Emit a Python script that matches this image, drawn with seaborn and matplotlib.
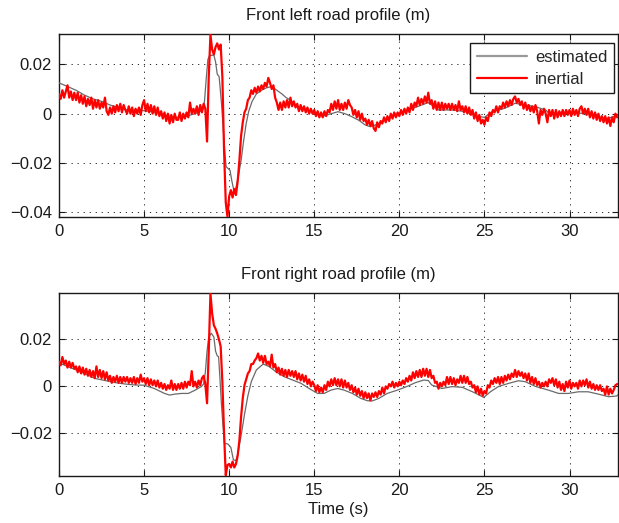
import numpy as np
import pandas as pd
import matplotlib
matplotlib.use("Agg")
import matplotlib.pyplot as plt
from matplotlib import ticker
import seaborn as sns

# Sampling step of the inertial reference signals (s)
dt = 0.1

# Front left wheel: inertial reference height (mm), one sample every 0.1 s from t = 0
fl_inertial_mm = [
    8, 6, 9.5, 6.5, 9, 11.5, 6.5, 9, 5.5, 8.5,
    5.5, 8.5, 4.5, 7.5, 4, 7, 3, 6, 3.5, 6.5,
    2, 5.5, 2.5, 5.5, 2, 4.5, 2.5, 6.5, 1, -0.5,
    2.5, 0, 3, 0.5, 3.5, 1, 4, 0.5, 3.5, 1.5,
    0, 3, 0, 2.5, -1, 2, 0, 2.5, -0.5, 3.5,
    5.5, 1, 4, 0.5, 3.5, 0, 3, -0.5, 2.5, -1,
    1, -2, 0.5, -3, 0, -4, -0.5, -3.5, 0, -2.5,
    -2.5, 0.5, -3, 0, -2, 0.5, -1.5, 4.5, 0, 2,
    0, 3, -0.5, 3.5, 0.5, 4, 2, -11.3, 15, 32,
    26, 24, 27, 28.5, 26, 28, 15, -15, -36, -41.8,
    -33.5, -31, -34, -30.5, -33, -27.5, -19, -9, -3.5, 0.5,
    2, 5.5, 6.5, 9.5, 8, 10.5, 8.5, 11, 9, 11.5,
    10, 12.5, 11, 14.5, 12.5, 10, 11.5, 6.5, 4.5, 1.5,
    4.5, 1.5, 5, 2.5, 5.5, 2.5, 6.5, 3, 5, 2.5,
    4, 1, 3.5, 1, 3, 0.5, 2.5, 0, 2, 0,
    1.5, -1, 1, -1.5, 0.5, -1.5, 1, -1, 1.5, 0.5,
    4, 1.5, 5, 2, 5.5, 1.5, 4, 1.5, 4.5, 2,
    5.5, 3.5, 2.5, -0.5, 1.5, -1.5, 1, -2.5, 0, -3,
    -2, -4.5, -2.5, -5, -3, -6, -7, -3.5, -5.5, -3,
    -4, -1.5, -3.5, -1, -3, 0, -2, 0.5, -1.5, 0.5,
    -1, 1.5, -0.5, 2, 0, 2.5, 0.5, 4, 1.5, 4.5,
    3, 6.5, 3.5, 6, 4, 7, 4.5, 8.5, 4, 5.5,
    2, 5, 1.5, 4.5, 1.5, 4.5, 1.5, 4, 2, 4,
    1.5, 4, 1.5, 3.5, 1, 5, 1.5, 3, 0.5, 3,
    0, 2.5, -0.5, 1.5, -2, 0.5, -3, -0.5, -4, -2.5,
    -4.5, -1.5, -3, 0.5, -1, 1.5, 0.5, 3, 0.5, 3,
    2, 4.5, 2.5, 5, 3, 5.5, 3.5, 6, 7, 4.5,
    6, 3.5, 5, 2, 4.5, 1.5, 3.5, 1, 3, 0.5,
    3.5, 1, -4, 1.5, -0.5, 2, 0, -3.5, 1.5, -1,
    1.5, -2, 1.5, -1.5, 1, -1, 1.5, -1, 1.5, -0.5,
    1.5, -1, 2, -0.5, 1.5, -1, 2, 3, 0, 2,
    -0.5, 2, -1.5, 1, -2, 0.5, -2.5, 0, -3, -1,
    -3.5, -1, -4, -1.5, -5, -1.5, -3.5, 0, -1.5,
]

# Front left wheel: estimated profile, time (s) and height (mm)
fl_est_t = [
    0, 0.5, 1, 1.5, 2, 2.5, 3, 3.5, 4, 4.5, 5, 5.5, 6, 6.5, 7, 7.5, 8, 8.45,
    8.55, 8.65, 8.75, 8.85, 9.1, 9.2, 9.3, 9.41, 9.45, 9.55, 9.65, 9.75, 9.82,
    9.9, 10.05, 10.15, 10.3, 10.4, 10.55, 10.7, 10.85, 11.0, 11.15, 11.35,
    11.6, 11.9, 12.2, 12.5, 12.8, 13.1, 13.35, 13.6, 14.0, 14.5, 15.0, 15.5,
    15.9, 16.4, 16.8, 17.2, 17.6, 18.0, 18.3, 18.7, 19.1, 19.6, 20.2, 20.8,
    21.2, 21.7, 22.3, 23.1, 23.9, 24.5, 25.0, 25.45, 26.2, 26.8, 27.4, 28.0,
    28.6, 28.9, 29.1, 29.5, 30.3, 31.1, 31.7, 32.3, 32.85,
]
fl_est_mm = [
    12.5, 11, 9.5, 7.5, 6, 5, 3.5, 2.5, 1.5, 1.5, 1.2, 0.8, 0, -1, -1.5, -1, 0, 1.5,
    5, 14, 22, 23.5, 23.8, 21, 16, 15, 12, 4, -6, -16, -21.5,
    -22, -23, -27, -32, -30, -25, -19, -11, -4, 1, 5,
    8, 9.5, 10.5, 11, 9.5, 8, 6.5, 5.5, 3, 1.8, 0.3, -1,
    -0.2, 0.8, 0, -1.2, -2.6, -4.6, -5.3, -4.3, -2.6, -1, 0.8, 2.2,
    3.2, 4.5, 1.5, 1.5, 0.8, -1, -1.5, 0.8, 2.2, 4.2, 3.5, 2.8,
    1.5, -0.5, 0.3, 0, 0.4, -0.1, -1.5, -1.9, -0.5,
]

# Front right wheel: inertial reference height (mm), one sample every 0.1 s from t = 0
fr_inertial_mm = [
    10.5, 9, 12.5, 9.5, 11, 8, 10.5, 8, 10, 7.5,
    8.5, 6, 8.5, 5.5, 8, 5, 7.5, 4.5, 7, 4,
    6.5, 3.5, 8.5, 4, 7, 3.5, 6.5, 3, 6, 2.5,
    4.5, 1.5, 4, 2, 4.5, 1.5, 4, 1.5, 4, 2,
    4, 1.5, 3.5, 1.5, 4, 1, 3.5, 1.5, 5, 2,
    3.5, 1, 3.5, 0.5, 3, 0.5, 2.5, 0, 2.5, -0.5,
    1.5, -1, 1, -1.5, 0.5, -1, 2.5, -1.5, 1, -1.5,
    1, -1, 1.5, -1, 2, -0.5, 2, 0.5, 6.5, 0,
    2, -0.5, 2.5, 0.5, 3.5, 4.5, 1, -7.2, 15, 39.5,
    31, 26, 24.5, 22.5, 20, 17, 2, -20, -37.8, -33.5,
    -33, -34.5, -32, -34.5, -33, -29.5, -23, -13, -5, 0.5,
    3, 5.5, 6.5, 9.5, 9.5, 11, 12, 14, 11, 13,
    10, 13, 9.5, 10.5, 8.5, 13.5, 8, 9.5, 6, 8,
    5, 7.5, 4.5, 7, 4, 7, 4.5, 6.5, 4, 6.5,
    3, 5.5, 2.5, 5, 2, 4.5, 1, 3, 0, 2,
    0.5, -2, 0.5, -2.5, -0.5, -2.5, 0.5, -1.5, 2, 0,
    3, 0.5, 3.5, 0.5, 3, 0, 3, -0.5, 2.5, -0.5,
    1.5, -1.5, 0.5, -2.5, -0.5, -3.5, -1, -4, -2, -5,
    -2.5, -5, -3, -6, -3, -4.5, -2.5, -4.5, -2, -3.5,
    -0.5, -3, 0, -1, 1, 0, 2, -0.5, 1.5, 0,
    2, 0.5, 2.5, 1, 3.5, 2, 4.5, 2.5, 6, 3.5,
    6.5, 4, 7, 4, 7.5, 4.5, 7.5, 4, 7, 3.5,
    4.5, 1.5, 2, -1, 1.5, 0, 2, 0.5, 4, 1,
    4, 1, 3.5, 0.5, 3, 1.5, 4.5, 1.5, 4.5, 1.5,
    4, 1, 2, -0.5, 0.5, -2.5, 0, -3.5, -1, -4,
    -2, -3, 0.5, -0.5, 2.5, 1, 3.5, 1.5, 4, 1,
    4, 1.5, 4.5, 2.5, 5, 3, 5.5, 4, 7, 4,
    6.5, 4.5, 6, 3.5, 5.5, 2.5, 5.5, 1.5, 4, 1,
    3.5, 0.5, 2, -0.5, 1.5, 0, 2, 0, 3, 1.5,
    3.5, 0.5, 3, -0.5, 2, -1.5, 1, -2, 2, -0.5,
    2.5, -1, 1.5, 0, 1.5, -1, 2.5, 0, 2.5, 0.5,
    3, -0.5, 2, -1, 1, -1.5, 0.5, -1.5, 0.5, -2,
    -1, -3.5, 0, -3.5, -1, -3, -1.5, 0.5, 1,
]

# Front right wheel: estimated profile, time (s) and height (mm)
fr_est_t = [
    0, 0.5, 1, 1.5, 2.1, 2.7, 3.3, 3.9, 4.45, 5.0, 5.6, 6.2, 6.5, 6.8, 7.2, 7.6,
    8.0, 8.36, 8.5, 8.6, 8.7, 8.8, 8.95, 9.1, 9.2, 9.3, 9.38, 9.47, 9.55, 9.63,
    9.73, 9.92, 10.1, 10.25, 10.4, 10.5, 10.7, 10.9, 11.1, 11.3, 11.6, 12.0,
    12.36, 12.75, 13.24, 13.73, 14.22, 14.7, 15.2, 15.58, 15.98, 16.37, 16.76,
    17.24, 17.73, 18.12, 18.41, 18.8, 19.29, 19.88, 20.46, 20.95, 21.43, 21.7,
    21.9, 22.5, 23.1, 23.7, 24.3, 24.7, 24.96, 25.35, 25.84, 26.43, 27.0, 27.4,
    27.99, 28.77, 29.36, 29.94, 30.53, 31.1, 31.7, 32.3, 32.77, 32.85,
]
fr_est_mm = [
    10, 8.5, 7, 5.5, 3.4, 2.5, 1.6, 1, 0.6, 0.5, -0.9, -3, -3.7, -3.3, -3, -3,
    -1.6, -0.1, 1, 6, 15, 21, 22.6, 21, 15, 13, 12.6, 2, -8, -16,
    -24.3, -24.5, -26, -31.3, -31.5, -29, -21, -12, -4, 2, 7, 9.5,
    8.4, 6.2, 4.1, 2.7, 1.3, -0.9, -3, -3, -1.6, -0.9, -1.6,
    -3, -5.1, -6.1, -6.2, -5.1, -3, -1.6, 0, 1.6, 2.7, 2.5,
    0.6, -0.9, -0.1, -0.4, -2.3, -3.7, -4.7, -2.3, 0, 1.3, 2.4, 2,
    0, -1.6, -3, -3, -2.3, -2.3, -3.3, -4.4, -4.1, -3.5,
]

x_ticks = [0, 5, 10, 15, 20, 25, 30]
fl_y_ticks = [-0.04, -0.02, 0, 0.02]
fr_y_ticks = [-0.02, 0, 0.02]
x_limits = (0, 32.85)
fl_y_limits = (-0.0419, 0.0323)
fr_y_limits = (-0.038, 0.0396)

sns.set_theme(style="white")
plt.rcParams["font.family"] = ["Liberation Sans", "DejaVu Sans"]
plt.rcParams["axes.unicode_minus"] = True

FONT = 12
EST_COLOR = "#6a6a6a"
INERTIAL_COLOR = "#ff0000"


def frames(inertial_mm, est_t, est_mm):
    inertial = pd.DataFrame({
        "time": np.arange(len(inertial_mm)) * dt,
        "height": np.asarray(inertial_mm) * 1e-3,
    })
    est = pd.DataFrame({
        "time": est_t,
        "height": np.asarray(est_mm) * 1e-3,
    })
    return inertial, est


def tick_label(v, _pos):
    s = "%g" % round(v, 6)
    return s.replace("-", "\u2212")


def style_axes(ax, yticks, ylim, title):
    ax.set_xlim(*x_limits)
    ax.set_ylim(*ylim)
    ax.set_xticks(x_ticks)
    ax.set_yticks(yticks)
    ax.xaxis.set_major_formatter(ticker.FuncFormatter(tick_label))
    ax.yaxis.set_major_formatter(ticker.FuncFormatter(tick_label))
    ax.grid(True, color="#222222", linestyle=(0, (1.2, 5)), linewidth=0.7)
    ax.tick_params(direction="in", length=4, width=0.8, colors="k",
                   labelsize=FONT, top=True, right=True, bottom=True, left=True,
                   pad=5)
    for sp in ax.spines.values():
        sp.set_color("k")
        sp.set_linewidth(1.0)
        sp.set_visible(True)
    ax.set_title(title, fontsize=FONT, color="k", pad=10)
    ax.set_xlabel("")
    ax.set_ylabel("")


fig = plt.figure(figsize=(6.19, 5.23), dpi=100)
W, H = 619.0, 523.0
ax1 = fig.add_axes([59 / W, 1 - 217 / H, 559 / W, 183 / H])
ax2 = fig.add_axes([59 / W, 1 - 475.7 / H, 559 / W, 182.4 / H])

fl_inertial, fl_est = frames(fl_inertial_mm, fl_est_t, fl_est_mm)
fr_inertial, fr_est = frames(fr_inertial_mm, fr_est_t, fr_est_mm)

for ax, inertial, est, yt, yl, title in [
    (ax1, fl_inertial, fl_est, fl_y_ticks, fl_y_limits, "Front left road profile (m)"),
    (ax2, fr_inertial, fr_est, fr_y_ticks, fr_y_limits, "Front right road profile (m)"),
]:
    sns.lineplot(data=est, x="time", y="height", ax=ax, color=EST_COLOR,
                 linewidth=0.9, label="estimated", sort=False, zorder=3)
    sns.lineplot(data=inertial, x="time", y="height", ax=ax, color=INERTIAL_COLOR,
                 linewidth=1.6, label="inertial", sort=False, zorder=4)
    style_axes(ax, yt, yl, title)

ax2.get_legend().remove()
handles, labels = ax1.get_legend_handles_labels()
ax1.get_legend().remove()
leg = ax1.legend(handles, labels, loc="upper right",
                 bbox_to_anchor=((614 - 59) / 559, 1 - (43.3 - 34) / 183),
                 borderaxespad=0, frameon=True, fancybox=False, framealpha=1,
                 edgecolor="k", fontsize=FONT, handlelength=3.0,
                 labelspacing=0.4, borderpad=0.4, handletextpad=0.5)
leg.get_frame().set_linewidth(1.0)
leg.get_lines()[0].set_color("#9a9a9a")
leg.get_lines()[0].set_linewidth(1.6)
leg.get_lines()[1].set_linewidth(1.6)

ax2.set_xlabel("Time (s)", fontsize=FONT, color="k", labelpad=3)

fig.savefig("out.png", dpi=100)
